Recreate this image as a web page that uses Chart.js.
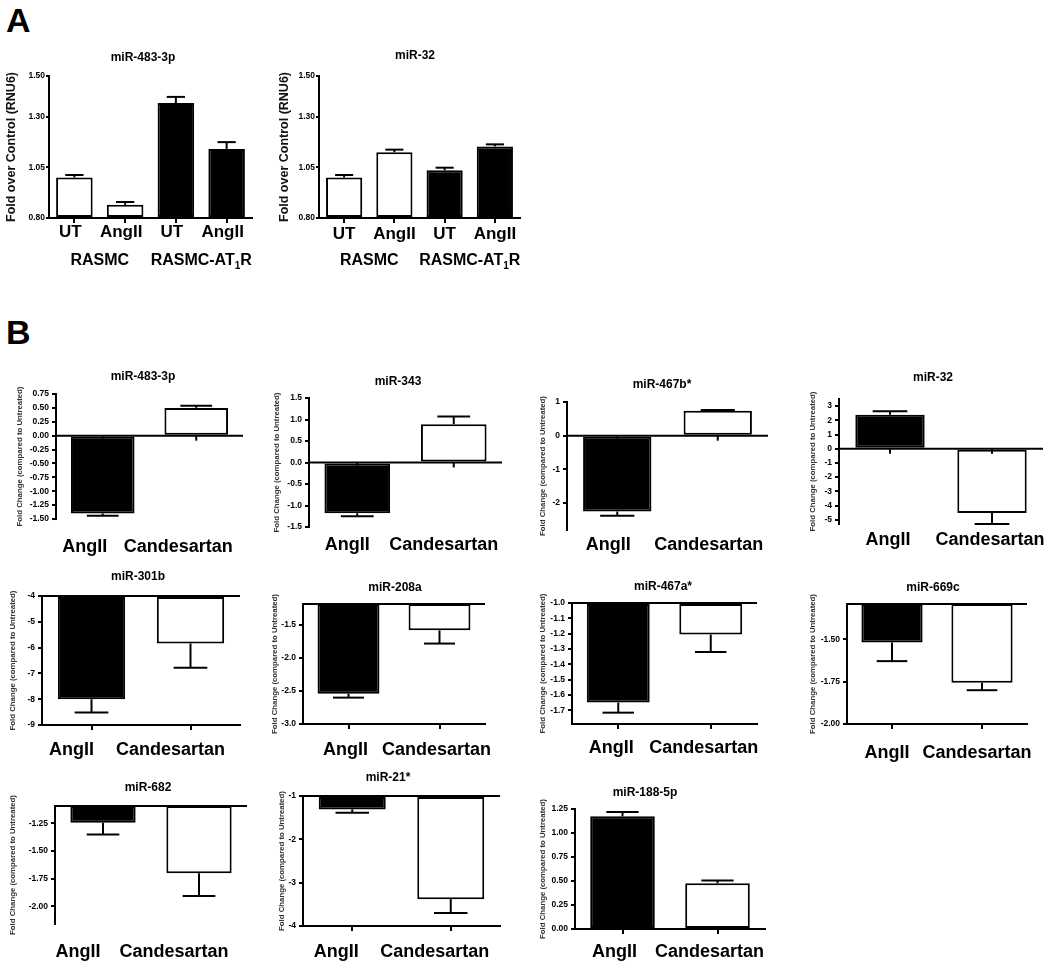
<!DOCTYPE html>
<html>
<head>
<meta charset="utf-8">
<script src="https://cdn.jsdelivr.net/npm/chart.js@4.4.1/dist/chart.umd.min.js"></script>
<style>
  body { margin: 0; background: #fff; }
  #page { position: relative; width: 1050px; height: 968px; overflow: hidden; background: #fff;
          font-family: "Liberation Sans", Arial, Helvetica, sans-serif; }
  #page canvas { position: absolute; left: 0; top: 0; }
  .letter { position: absolute; font-weight: bold; font-size: 34px; line-height: normal; color: #000; }
</style>
</head>
<body>
<div id="page">
  <div class="letter" style="left:6px;top:1px">A</div>
  <div class="letter" style="left:6px;top:313px">B</div>
</div>
<script>
const FAMILY = '"Liberation Sans", Arial, Helvetica, sans-serif';
Chart.defaults.font.family = FAMILY;
Chart.defaults.color = '#000';

const W = 1050, H = 968;

// categories
const aCats = ['UT', 'AngII', 'UT', 'AngII'];
const aGroups = ['RASMC', 'RASMC-AT1R'];
const bCats = ['AngII', 'Candesartan'];
const aColors = ['#fff', '#fff', '#000', '#000'];
const bColors = ['#000', '#fff'];

// panel A - fold over control (RNU6)
const aTicks = [0.80, 1.05, 1.30, 1.50];
const aRange = [0.80, 1.50];
const a483Mean = [1.00, 0.865, 1.367, 1.14];
const a483Sem = [0.012, 0.014, 0.03, 0.034];
const a32Mean = [1.00, 1.124, 1.035, 1.153];
const a32Sem = [0.012, 0.013, 0.013, 0.01];

// panel B - fold change compared to untreated (AngII, Candesartan)
const b483Mean = [-1.40, 0.50];
const b483Sem = [0.04, 0.04];
const b483Ticks = [0.75, 0.5, 0.25, 0, -0.25, -0.5, -0.75, -1, -1.25, -1.5];
const b483Range = [-1.5, 0.75];

const b343Mean = [-1.18, 0.89];
const b343Sem = [0.07, 0.18];
const b343Ticks = [1.5, 1, 0.5, 0, -0.5, -1, -1.5];
const b343Range = [-1.5, 1.5];

const b467bMean = [-2.25, 0.74];
const b467bSem = [0.13, 0.02];
const b467bTicks = [1, 0, -1, -2];
const b467bRange = [-2.8, 1];

const b32Mean = [2.40, -4.53];
const b32Sem = [0.23, 0.77];
const b32Ticks = [3, 2, 1, 0, -1, -2, -3, -4, -5];
const b32Range = [-5.3, 3.5];

const b301bMean = [-8.0, -5.84];
const b301bSem = [0.52, 0.94];
const b301bTicks = [-4, -5, -6, -7, -8, -9];
const b301bRange = [-9, -4];

const b208aMean = [-2.54, -1.58];
const b208aSem = [0.06, 0.20];
const b208aTicks = [-1.5, -2, -2.5, -3];
const b208aRange = [-3, -1.18];

const b467aMean = [-1.65, -1.206];
const b467aSem = [0.066, 0.114];
const b467aTicks = [-1, -1.1, -1.2, -1.3, -1.4, -1.5, -1.6, -1.7];
const b467aRange = [-1.79, -1.0];

const b669cMean = [-1.518, -1.756];
const b669cSem = [0.11, 0.044];
const b669cTicks = [-1.5, -1.75, -2];
const b669cRange = [-2, -1.29];

const b682Mean = [-1.244, -1.70];
const b682Sem = [0.106, 0.206];
const b682Ticks = [-1.25, -1.5, -1.75, -2];
const b682Range = [-2.16, -1.093];

const b21Mean = [-1.31, -3.38];
const b21Sem = [0.075, 0.32];
const b21Ticks = [-1, -2, -3, -4];
const b21Range = [-4, -1];

const b188Mean = [1.174, 0.477];
const b188Sem = [0.046, 0.028];
const b188Ticks = [0, 0.25, 0.5, 0.75, 1, 1.25];
const b188Range = [0, 1.25];

const aTitle = 'Fold over Control (RNU6)';
const bTitle = 'Fold Change (compared to Untreated)';

// box: plot rectangle on the page, title pos, y-title x, label y, label offset, bottom axis line
const specs = [
  { title: 'miR-483-3p', kind: 'A', cats: aCats, mean: a483Mean, sem: a483Sem, ticks: aTicks, range: aRange, dec: 2, colors: aColors,
    box: { L: 49, T: 76, R: 252, B: 218, tx: 143, ty: 58, yx: 12, ly: 232, lo: -4, axis: true } },
  { title: 'miR-32', kind: 'A', cats: aCats, mean: a32Mean, sem: a32Sem, ticks: aTicks, range: aRange, dec: 2, colors: aColors,
    box: { L: 319, T: 76, R: 520, B: 218, tx: 415, ty: 56, yx: 285, ly: 234, lo: 0, axis: true } },

  { title: 'miR-483-3p', cats: bCats, mean: b483Mean, sem: b483Sem, ticks: b483Ticks, range: b483Range, dec: 2, colors: bColors,
    box: { L: 56, T: 394, R: 243, B: 519, tx: 143, ty: 377, yx: 20, ly: 547, lo: -18, axis: false } },
  { title: 'miR-343', cats: bCats, mean: b343Mean, sem: b343Sem, ticks: b343Ticks, range: b343Range, dec: 1, colors: bColors,
    box: { L: 309, T: 398, R: 502, B: 527, tx: 398, ty: 382, yx: 277, ly: 545, lo: -10, axis: false } },
  { title: 'miR-467b*', cats: bCats, mean: b467bMean, sem: b467bSem, ticks: b467bTicks, range: b467bRange, dec: 0, colors: bColors,
    box: { L: 567, T: 402, R: 768, B: 530, tx: 662, ty: 385, yx: 543, ly: 545, lo: -9, axis: false } },
  { title: 'miR-32', cats: bCats, mean: b32Mean, sem: b32Sem, ticks: b32Ticks, range: b32Range, dec: 0, colors: bColors,
    box: { L: 839, T: 399, R: 1043, B: 524, tx: 933, ty: 378, yx: 813, ly: 540, lo: -2, axis: false } },

  { title: 'miR-301b', cats: bCats, mean: b301bMean, sem: b301bSem, ticks: b301bTicks, range: b301bRange, dec: 0, colors: bColors,
    box: { L: 42, T: 596, R: 240, B: 725, tx: 138, ty: 577, yx: 13, ly: 750, lo: -20, axis: true } },
  { title: 'miR-208a', cats: bCats, mean: b208aMean, sem: b208aSem, ticks: b208aTicks, range: b208aRange, dec: 1, colors: bColors,
    box: { L: 303, T: 604, R: 485, B: 724, tx: 395, ty: 588, yx: 275, ly: 750, lo: -3, axis: true } },
  { title: 'miR-467a*', cats: bCats, mean: b467aMean, sem: b467aSem, ticks: b467aTicks, range: b467aRange, dec: 1, colors: bColors,
    box: { L: 572, T: 603, R: 757, B: 724, tx: 663, ty: 587, yx: 543, ly: 748, lo: -7, axis: true } },
  { title: 'miR-669c', cats: bCats, mean: b669cMean, sem: b669cSem, ticks: b669cTicks, range: b669cRange, dec: 2, colors: bColors,
    box: { L: 847, T: 604, R: 1027, B: 724, tx: 933, ty: 588, yx: 813, ly: 753, lo: -5, axis: true } },

  { title: 'miR-682', cats: bCats, mean: b682Mean, sem: b682Sem, ticks: b682Ticks, range: b682Range, dec: 2, colors: bColors,
    box: { L: 55, T: 806, R: 247, B: 924, tx: 148, ty: 788, yx: 13, ly: 952, lo: -25, axis: false } },
  { title: 'miR-21*', cats: bCats, mean: b21Mean, sem: b21Sem, ticks: b21Ticks, range: b21Range, dec: 0, colors: bColors,
    box: { L: 303, T: 796, R: 500, B: 926, tx: 388, ty: 778, yx: 282, ly: 952, lo: -16, axis: true } },
  { title: 'miR-188-5p', cats: bCats, mean: b188Mean, sem: b188Sem, ticks: b188Ticks, range: b188Range, dec: 2, colors: bColors,
    box: { L: 575, T: 809, R: 765, B: 929, tx: 645, ty: 793, yx: 543, ly: 952, lo: -8, axis: true } }
];

function strokeLine(ctx, x1, y1, x2, y2) {
  ctx.beginPath();
  ctx.moveTo(x1, y1);
  ctx.lineTo(x2, y2);
  ctx.stroke();
}

// same rule the bars use: hang from max when all negative, stand on min when all positive
function baseOf(range) {
  if (range[0] < 0 && range[1] < 0) return range[1];
  if (range[0] > 0 && range[1] > 0) return range[0];
  return 0;
}

function drawGroupLabel(ctx, text, cx, y) {
  const k = text.indexOf('AT1');
  if (k < 0) {
    ctx.textAlign = 'center';
    ctx.fillText(text, cx, y);
    return;
  }
  const head = text.slice(0, k + 2), sub = '1', tail = text.slice(k + 3);
  const big = 'bold 16px ' + FAMILY, small = 'bold 10px ' + FAMILY;
  ctx.font = big;
  const w1 = ctx.measureText(head).width, w3 = ctx.measureText(tail).width;
  ctx.font = small;
  const w2 = ctx.measureText(sub).width;
  let x = cx - (w1 + w2 + w3) / 2;
  ctx.textAlign = 'left';
  ctx.font = big;
  ctx.fillText(head, x, y);
  x += w1;
  ctx.font = small;
  ctx.fillText(sub, x, y + 5);
  x += w2;
  ctx.font = big;
  ctx.fillText(tail, x, y);
}

function decorPlugin(spec) {
  const b = spec.box;
  const isA = spec.kind === 'A';
  return {
    id: 'decor',
    afterDatasetsDraw(chart) {
      const ctx = chart.ctx, ys = chart.scales.y, area = chart.chartArea;
      const bars = chart.getDatasetMeta(0).data;
      const base = baseOf(spec.range);
      ctx.save();
      ctx.strokeStyle = '#000';
      ctx.fillStyle = '#000';
      ctx.lineWidth = 2;

      // baseline the bars hang from (when it is not the bottom axis)
      if (base !== spec.range[0]) {
        const by = ys.getPixelForValue(base);
        strokeLine(ctx, area.left, by, area.right, by);
        if (base === 0) bars.forEach(bar => strokeLine(ctx, bar.x, by, bar.x, by + 5));
      }

      // one-sided SEM error bars
      bars.forEach((bar, i) => {
        const m = spec.mean[i];
        const dir = m >= base ? 1 : -1;
        const ey = ys.getPixelForValue(m + dir * spec.sem[i]);
        const cap = bar.width * 0.25;
        strokeLine(ctx, bar.x, bar.y, bar.x, ey);
        strokeLine(ctx, bar.x - cap, ey, bar.x + cap, ey);
      });

      ctx.textBaseline = 'middle';
      ctx.textAlign = 'center';
      ctx.font = 'bold 12px ' + FAMILY;
      ctx.fillText(spec.title, b.tx, b.ty);

      ctx.save();
      ctx.translate(b.yx, (area.top + area.bottom) / 2);
      ctx.rotate(-Math.PI / 2);
      ctx.font = isA ? 'bold 12.5px ' + FAMILY : 'bold 7.8px ' + FAMILY;
      ctx.fillStyle = isA ? '#111' : '#333';
      ctx.fillText(isA ? aTitle : bTitle, 0, 0);
      ctx.restore();

      if (isA) {
        const mid1 = (bars[0].x + bars[1].x) / 2;
        const mid2 = (bars[2].x + bars[3].x) / 2;
        ctx.font = 'bold 16px ' + FAMILY;
        drawGroupLabel(ctx, aGroups[0], mid1, 261);
        drawGroupLabel(ctx, aGroups[1], mid2, 261);
      }
      ctx.restore();
    }
  };
}

function build(spec) {
  const page = document.getElementById('page');
  const cv = document.createElement('canvas');
  cv.width = W;
  cv.height = H;
  page.appendChild(cv);

  const b = spec.box;
  const isA = spec.kind === 'A';
  const labelSize = isA ? 17 : 18;
  const tl = b.axis ? 5 : 0;
  const labelPad = b.ly - b.B - tl - labelSize * 0.6;

  new Chart(cv.getContext('2d'), {
    type: 'bar',
    data: {
      labels: spec.cats,
      datasets: [{
        data: spec.mean,
        base: baseOf(spec.range),
        backgroundColor: spec.colors,
        borderColor: '#000',
        borderWidth: 2,
        borderSkipped: false,
        barPercentage: isA ? 0.72 : 0.68,
        categoryPercentage: 1
      }]
    },
    options: {
      responsive: false,
      animation: false,
      devicePixelRatio: 1,
      events: [],
      layout: { padding: { left: 0, top: b.T, right: W - b.R, bottom: 0 } },
      plugins: { legend: { display: false }, tooltip: { enabled: false }, title: { display: false } },
      scales: {
        x: {
          afterFit: s => { s.height = H - b.B; s.paddingLeft = 0; s.paddingRight = 0; },
          border: { display: b.axis, color: '#000', width: 2 },
          grid: { display: b.axis, offset: false, drawOnChartArea: false, drawTicks: b.axis, tickLength: tl, color: '#000', lineWidth: 2 },
          ticks: {
            color: '#000',
            font: { size: labelSize, weight: 'bold' },
            maxRotation: 0, minRotation: 0, autoSkip: false,
            padding: labelPad,
            labelOffset: b.lo
          }
        },
        y: {
          min: spec.range[0],
          max: spec.range[1],
          beginAtZero: false,
          afterBuildTicks: s => { s.ticks = spec.ticks.map(v => ({ value: v })); },
          afterFit: s => { s.width = b.L; s.paddingTop = 0; s.paddingBottom = 0; },
          border: { display: true, color: '#000', width: 2 },
          grid: { drawOnChartArea: false, drawTicks: true, tickLength: isA ? 3 : 4, color: '#000', lineWidth: 2 },
          ticks: {
            color: '#000',
            font: { size: isA ? 8.5 : 8.5, weight: 'bold' },
            padding: isA ? 1 : 3,
            callback: v => Number(v).toFixed(spec.dec)
          }
        }
      }
    },
    plugins: [decorPlugin(spec)]
  });
}

specs.forEach(build);
</script>
</body>
</html>
